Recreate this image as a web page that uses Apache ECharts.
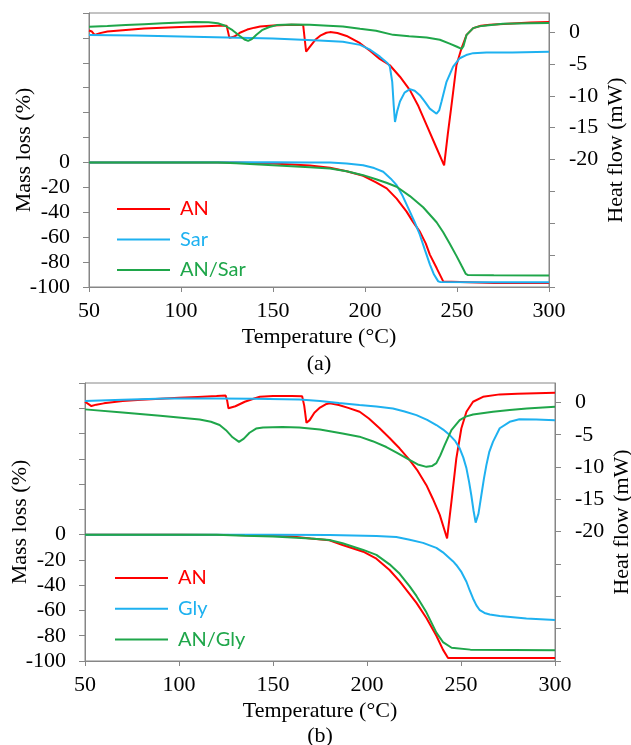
<!DOCTYPE html>
<html><head><meta charset="utf-8">
<script src="https://cdn.jsdelivr.net/npm/echarts@6/dist/echarts.min.js"></script>
<style>html,body{margin:0;padding:0;background:#fff}#c{width:631px;height:745px}</style>
</head><body><div id="c"></div>
<script>
// ---------- Panel (a): AN / Sar / AN-Sar ----------
const aHeatAN = [[50,0.25],[51.5,0.1],[53,-0.43],[56,-0.16],[60,0.1],[70,0.35],[80,0.55],[90,0.7],[100,0.8],[110,0.9],[120,0.98],[124.8,1.0],[125.6,0.0],[126.3,-0.9],[127.2,-1.1],[129,-0.7],[132,-0.1],[136,0.4],[140,0.7],[143,0.88],[150,1.05],[160,1.15],[166.4,1.1],[167.2,-1.0],[168,-3.06],[170,-2.3],[173,-1.2],[176,-0.5],[179,-0.1],[181,0],[185,-0.15],[190,-0.6],[197.3,-1.74],[203,-3.0],[208,-4.2],[213.5,-5.2],[219,-7.0],[224.4,-9.1],[229,-11.6],[233.5,-14.6],[238,-17.6],[243,-20.9],[245,-16],[247,-11.5],[249.7,-5.2],[252.5,-2.5],[255.2,-0.43],[258.8,0.63],[263,1.0],[267.8,1.15],[280,1.35],[290,1.5],[300,1.6]];
const aHeatSar = [[50,-0.47],[75,-0.55],[100,-0.7],[125,-0.85],[150,-1.0],[175,-1.3],[188,-1.5],[197.3,-2.0],[203,-2.8],[208.1,-3.85],[212,-4.8],[213.5,-5.4],[214.8,-7.8],[215.6,-11.5],[216.3,-14.1],[217.5,-12.4],[219,-10.9],[221.5,-9.5],[224.4,-8.95],[227,-9.2],[229.8,-9.9],[232.5,-10.9],[235.2,-12.0],[238.9,-12.8],[240.3,-12.3],[241.6,-10.9],[244.3,-7.8],[247.9,-5.4],[251.5,-4.1],[255,-3.6],[258.8,-3.3],[266,-3.2],[280,-3.2],[300,-3.1]];
const aHeatMix = [[50,0.84],[60,0.95],[70,1.1],[80,1.25],[90,1.4],[100,1.52],[107,1.58],[115,1.55],[120,1.4],[124,1.0],[128,0.3],[132,-0.6],[134.5,-1.15],[136.5,-1.37],[138.5,-1.1],[141,-0.4],[144,0.3],[148,0.8],[152,1.1],[160,1.2],[170,1.15],[180,1.0],[188,0.88],[197.3,0.52],[206,0.2],[215.3,-0.43],[224,-0.65],[233.5,-0.85],[240.7,-1.2],[246,-1.8],[250,-2.3],[252.5,-2.63],[253.5,-2.2],[255.2,-0.43],[258.8,0.63],[262,0.9],[266,1.04],[275,1.3],[290,1.38],[300,1.42]];
const aMassAN = [[50,0],[100,0],[130,0],[140,-0.4],[150,-0.9],[160,-1.6],[170,-2.5],[181,-4.3],[190,-7.0],[199,-10.7],[206,-16],[211.8,-20.8],[217.2,-29],[222.6,-39.5],[226,-47.5],[229.8,-55.5],[233,-65],[235.3,-74.2],[239,-85],[242.5,-95.5],[243.5,-96.6],[270,-96.7],[300,-96.8]];
const aMassSar = [[50,0],[150,0.2],[170,0],[181,0],[190,-0.8],[199,-2.2],[205,-4.5],[209.9,-7.5],[214,-13],[217.2,-18.2],[220.5,-27],[224.4,-39.5],[227,-48],[229.8,-58],[232.5,-70],[235.3,-82],[237.5,-90],[239.8,-95.5],[241,-96],[270,-96.1],[300,-96.2]];
const aMassMix = [[50,0],[120,0],[130,-0.6],[140,-1.4],[150,-2.2],[160,-3.0],[170,-3.8],[181,-4.8],[190,-7.0],[199,-10.2],[206,-13.5],[212,-16.5],[217.2,-19.5],[224.4,-27],[231.6,-36],[238.9,-48],[242.5,-56],[246,-65],[249.7,-75],[252.5,-83],[254.8,-89.5],[256,-90.4],[270,-90.5],[300,-90.7]];
const aNames = ['AN','Sar','AN/Sar'];

// ---------- Panel (b): AN / Gly / AN-Gly ----------
const bHeatAN = [[50,0.1],[51.5,-0.2],[53.4,-0.57],[56,-0.35],[60,-0.15],[70,0.2],[80,0.4],[90,0.55],[100,0.7],[110,0.85],[120,1.0],[124.8,1.08],[125.6,0.3],[126.3,-0.9],[127,-1.2],[130,-0.6],[135,0.1],[140,0.6],[143,0.87],[150,0.98],[160,1.0],[165.5,0.95],[166.6,-0.5],[167.8,-3.15],[169.5,-2.74],[172,-1.6],[175,-0.8],[178,-0.3],[180.2,-0.15],[185,-0.4],[190,-0.85],[196.1,-1.45],[201,-2.5],[206.7,-4.0],[212,-5.5],[217.3,-7.1],[222.6,-8.9],[227,-10.6],[231.6,-12.8],[235,-14.9],[238.7,-17.4],[242.6,-21.05],[244.9,-15.4],[247.5,-8.7],[250.2,-4.0],[252.9,-1.45],[256.4,0.1],[261.7,0.87],[270.6,1.24],[280,1.35],[290,1.42],[300,1.49]];
const bHeatGly = [[50,0.2],[70,0.42],[93,0.62],[120,0.6],[140,0.55],[164,0.46],[175,0.2],[185,-0.1],[196,-0.42],[205,-0.65],[213.8,-0.93],[220,-1.4],[226.3,-1.97],[232,-2.7],[236.9,-3.5],[240.5,-4.2],[244,-5.06],[247,-6.0],[249.3,-7.1],[251.2,-8.5],[252.9,-10.2],[254.3,-12.3],[255.5,-14.4],[256.7,-16.8],[257.8,-18.6],[259.3,-17.2],[260.8,-14.4],[262.2,-11.8],[263.5,-9.7],[265,-7.7],[267,-6.1],[270.6,-4.0],[275.9,-3.0],[281,-2.6],[290,-2.65],[300,-2.75]];
const bHeatMix = [[50,-1.08],[70,-1.55],[90,-2.05],[111,-2.63],[117,-3.0],[121.6,-3.5],[125,-4.3],[128.5,-5.4],[131.9,-6.1],[134.5,-5.6],[137.5,-4.7],[141,-4.05],[144.7,-3.87],[155,-3.8],[164,-3.9],[175,-4.2],[187,-4.8],[196,-5.3],[203,-6.0],[210.3,-6.9],[216,-7.8],[222.6,-8.9],[227,-9.6],[231.6,-9.97],[234.5,-9.85],[236.9,-9.4],[239,-8.2],[241.3,-6.6],[244.9,-4.3],[249.3,-2.74],[252.5,-2.2],[256.4,-1.86],[267,-1.45],[275.9,-1.19],[285,-0.95],[300,-0.68]];
const bMassAN = [[50,0],[100,0],[130,-0.2],[150,-0.8],[160,-1.5],[170,-3.0],[180,-4.4],[187,-8.2],[198,-13.5],[205,-19],[212,-28],[217.4,-37],[222.7,-47],[226.3,-54],[231.6,-66],[236.9,-80],[240.4,-91],[243.1,-97.6],[270,-97.6],[300,-97.6]];
const bMassGly = [[50,0],[150,0],[180,-0.24],[205,-1],[215.6,-1.8],[222.7,-4],[229.8,-6.5],[236.9,-10.5],[240.4,-14],[245.7,-21],[247.5,-24],[250,-29],[252.9,-37.3],[254.6,-44],[256.4,-50.5],[258.2,-56],[260,-59.8],[262.5,-62],[265.3,-63.2],[270.6,-64.3],[284.8,-66.4],[300,-67.5]];
const bMassMix = [[50,0],[120,0],[135,-0.8],[150,-1.5],[160,-2.2],[170,-3.0],[180,-4.2],[187,-6.8],[198,-12.1],[205,-16],[212,-23.5],[217.4,-31],[222.7,-41],[226.3,-48.5],[231.6,-61.5],[236.9,-77.5],[240.4,-85],[245,-89.5],[255,-91],[300,-91.5]];
const bNames = ['AN','Gly','AN/Gly'];

// ---------- axes ----------
const massTickLabels = [0,-20,-40,-60,-80,-100];
const heatTickLabels = [0,-5,-10,-15,-20];
const heatTicks = [-40,-35,-30,-25,-20,-15,-10,-5,0];

const RED = '#ff0000', BLUE = '#1eb1f0', GREEN = '#1fa64a';
const COLORS = [RED, BLUE, GREEN];
const SERIF = '"Liberation Serif", "Times New Roman", serif';
const AXC = '#868686';

function xAxis(g, gap) {
  return {
    gridIndex: g, type: 'value', min: 50, max: 300, interval: 50,
    axisLine: {show: true, onZero: false, lineStyle: {color: AXC, width: 1}},
    axisTick: {show: true, length: 5, lineStyle: {color: AXC}},
    axisLabel: {margin: 13, color: '#000', fontFamily: SERIF, fontSize: 22},
    splitLine: {show: false},
    name: 'Temperature (°C)', nameLocation: 'middle', nameGap: gap, nameMoveOverlap: false,
    nameTextStyle: {fontFamily: SERIF, fontSize: 22, color: '#000'}
  };
}
function massAxis(g) {
  return {
    gridIndex: g, type: 'value', position: 'left', min: -100, max: 120, interval: 20,
    axisLine: {show: true, onZero: false, lineStyle: {color: AXC, width: 1}},
    axisTick: {show: true, length: 6, lineStyle: {color: AXC}},
    axisLabel: {margin: 19, color: '#000', fontFamily: SERIF, fontSize: 22,
      formatter: v => (massTickLabels.indexOf(v) >= 0 ? String(v) : '')},
    splitLine: {show: false},
    name: 'Mass loss (%)', nameLocation: 'middle', nameGap: 54, nameRotate: 90, nameMoveOverlap: false,
    nameTextStyle: {fontFamily: SERIF, fontSize: 22, color: '#000'}
  };
}
function heatAxis(g) {
  return {
    gridIndex: g, type: 'value', position: 'right', min: -40, max: 3, interval: 5,
    axisLine: {show: true, onZero: false, lineStyle: {color: AXC, width: 1}},
    axisTick: {show: true, length: 6, lineStyle: {color: AXC}, customValues: heatTicks},
    axisLabel: {margin: 20, color: '#000', fontFamily: SERIF, fontSize: 22, customValues: heatTickLabels,
      formatter: v => (heatTickLabels.indexOf(v) >= 0 ? String(v) : '')},
    splitLine: {show: false},
    name: 'Heat flow (mW)', nameLocation: 'middle', nameGap: 56, nameRotate: 90, nameMoveOverlap: false,
    nameTextStyle: {fontFamily: SERIF, fontSize: 22, color: '#000'}
  };
}
function line(name, data, xi, yi, color) {
  return {name, type: 'line', data, xAxisIndex: xi, yAxisIndex: yi, symbol: 'none', showSymbol: false,
    lineStyle: {width: 2, color}, itemStyle: {color}, animation: false, z: 3};
}
function legend(names, left, top, gap) {
  return {
    data: names.map((n, i) => ({name: n, icon: 'rect', textStyle: {color: COLORS[i]}})),
    orient: 'vertical', left, top, itemWidth: 53, itemHeight: 2, itemGap: gap, padding: 0,
    selectedMode: false,
    textStyle: {fontFamily: 'Lato, "Open Sans", sans-serif', fontSize: 20, lineHeight: 20, padding: [0, 0, 0, 5]}
  };
}

const series = [];
[[aMassAN, aMassSar, aMassMix], [bMassAN, bMassGly, bMassMix]].forEach((arrs, g) => {
  const nm = g === 0 ? aNames : bNames;
  arrs.forEach((d, i) => series.push(line(nm[i], d, g, g * 2, COLORS[i])));
});
[[aHeatAN, aHeatSar, aHeatMix], [bHeatAN, bHeatGly, bHeatMix]].forEach((arrs, g) => {
  const nm = g === 0 ? aNames : bNames;
  arrs.forEach((d, i) => series.push(line(nm[i], d, g, g * 2 + 1, COLORS[i])));
});

const chart = echarts.init(document.getElementById('c'), null, {renderer: 'canvas'});
chart.setOption({
  animation: false,
  backgroundColor: '#fff',
  title: [
    {text: '(a)', left: 319, top: 353, padding: 0, textAlign: 'center', textStyle: {fontFamily: SERIF, fontSize: 22, fontWeight: 'normal', color: '#000'}},
    {text: '(b)', left: 320, top: 725, padding: 0, textAlign: 'center', textStyle: {fontFamily: SERIF, fontSize: 22, fontWeight: 'normal', color: '#000'}}
  ],
  legend: [legend(aNames, 117, 199, 10.5), legend(bNames, 115, 568, 10.8)],
  grid: [
    {left: 89, top: 13, width: 460, height: 274, show: true, borderColor: AXC, borderWidth: 1, backgroundColor: 'transparent', outerBoundsMode: 'none', containLabel: false},
    {left: 85, top: 383, width: 470, height: 278, show: true, borderColor: AXC, borderWidth: 1, backgroundColor: 'transparent', outerBoundsMode: 'none', containLabel: false}
  ],
  xAxis: [xAxis(0, 39), xAxis(1, 39)],
  yAxis: [massAxis(0), heatAxis(0), massAxis(1), heatAxis(1)],
  series
});
</script></body></html>
